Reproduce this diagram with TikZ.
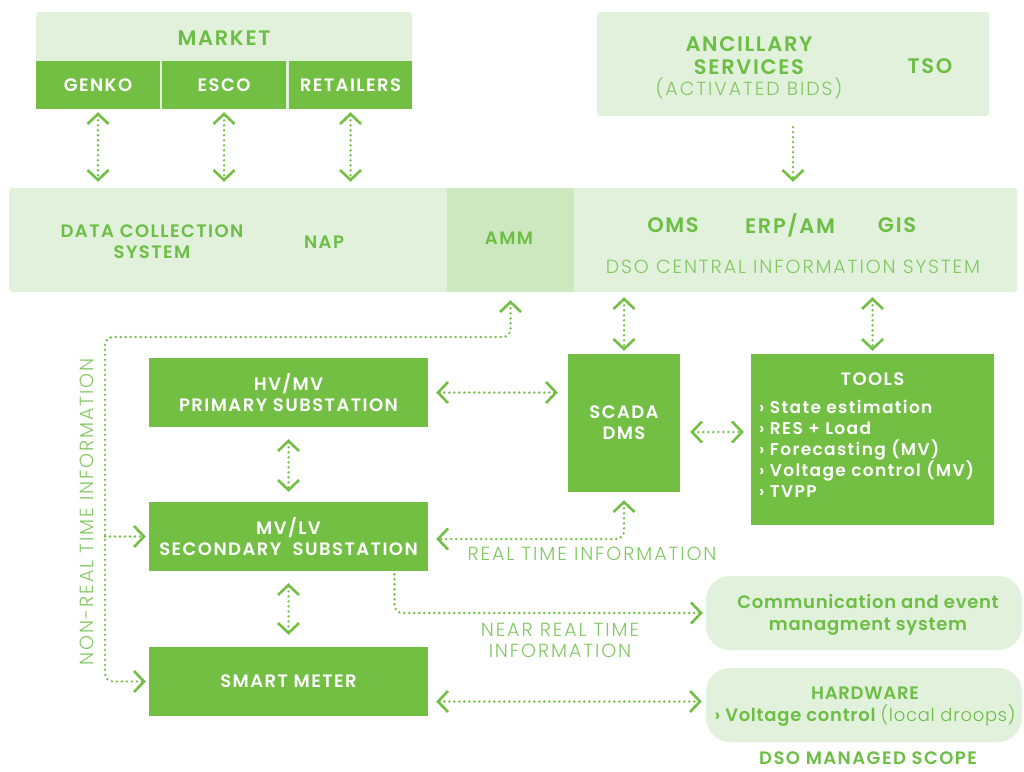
\documentclass[tikz,border=0pt]{standalone}
\usepackage{fontspec}
\setmainfont{Poppins}
\newfontfamily\labelfont{Poppins SemiBold}[LetterSpace=8]
\newfontfamily\thinfont{Poppins Light}[LetterSpace=10]
\usetikzlibrary{arrows.meta}
\definecolor{dsogreen}{RGB}{114,191,68}
\definecolor{dsolight}{RGB}{226,241,219}
\definecolor{dsoamm}{RGB}{205,232,191}
\definecolor{dsotext}{RGB}{108,190,69}
\definecolor{dsothin}{RGB}{130,200,98}

\begin{document}
\begin{tikzpicture}[x=1pt,y=-1pt,
	>={Straight Barb[length=10pt,width=21pt]},
	box/.style={fill=dsogreen, text=white, font=\labelfont\fontsize{18}{21}\selectfont, align=center, inner sep=0pt},
	panel/.style={fill=dsolight, rounded corners=3pt, inner sep=0pt},
	heading/.style={text=dsotext, font=\labelfont\fontsize{18}{21}\selectfont, align=center},
	bigheading/.style={heading, font=\labelfont\fontsize{21}{23}\selectfont},
	thin/.style={text=dsothin, font=\thinfont\fontsize{19}{21}\selectfont, align=center},
	link/.style={draw=dsogreen, line width=2.6pt, dash pattern=on 0pt off 5pt, line cap=round}]
			\useasboundingbox (0,0) rectangle (1024,771);
			% Define nodes
			\node[panel, minimum width=376pt, minimum height=97pt] (market) at (224,60.5) {}; % Market panel
			\node[bigheading] (marketlabel) at (224,38) {MARKET};
			\node[box, minimum width=124pt, minimum height=48pt] (genko) at (98,85) {GENKO};
			\node[box, minimum width=124pt, minimum height=48pt] (esco) at (224,85) {ESCO};
			\node[box, minimum width=123pt, minimum height=48pt] (retailers) at (350.5,85) {RETAILERS};
			\node[panel, minimum width=392pt, minimum height=104pt] (tso) at (793,64) {}; % TSO panel
			\node[bigheading] (ancillary) at (749,56) {ANCILLARY\\SERVICES};
			\node[thin] (bids) at (749,88) {(ACTIVATED BIDS)};
			\node[bigheading] (tsolabel) at (930,66) {TSO};
			
			\node[panel, minimum width=1008pt, minimum height=104pt] (band) at (513,240) {}; % Information band
			\node[fill=dsoamm, inner sep=0pt, minimum width=127pt, minimum height=104pt] (amm) at (510.5,240) {};
			\node[heading] (dcs) at (152,241.5) {DATA COLLECTION\\SYSTEM};
			\node[heading] (nap) at (324,242) {NAP};
			\node[heading] (ammlabel) at (509,238) {AMM};
			\node[bigheading] (oms) at (673,225) {OMS};
			\node[bigheading] (erp) at (790,225) {ERP/AM};
			\node[bigheading] (gis) at (897,225) {GIS};
			\node[thin] (central) at (793,267) {DSO CENTRAL INFORMATION SYSTEM};
			
			\node[box, minimum width=279pt, minimum height=69pt] (hvmv) at (288.5,392.5) {HV/MV\\PRIMARY SUBSTATION};
			\node[box, minimum width=279pt, minimum height=69pt] (mvlv) at (288.5,536.5) {MV/LV\\SECONDARY\ \ SUBSTATION};
			\node[box, minimum width=279pt, minimum height=69pt] (sm) at (288.5,681.5) {SMART METER};
			\node[box, minimum width=112pt, minimum height=138pt] (scada) at (624,423) {SCADA\\DMS};
			\node[box, minimum width=243pt, minimum height=171pt] (tools) at (872.5,439.5) {};
			\node[box] (toolstitle) at (872.5,379) {TOOLS};
			\node[box, anchor=west, align=left, font=\labelfont\fontsize{17}{21}\selectfont] (toolslist) at (759,449) {› State estimation\\› RES + Load\\› Forecasting (MV)\\› Voltage control (MV)\\› TVPP};
			
			\node[panel, rounded corners=24pt, minimum width=316pt, minimum height=74pt] (comm) at (864,613) {}; % Communication panel
			\node[heading, font=\labelfont\fontsize{18}{22}\selectfont\addfontfeatures{LetterSpace=4}] (commlabel) at (868,615) {Communication and event\\managment system};
			\node[panel, rounded corners=24pt, minimum width=316pt, minimum height=74pt] (hw) at (864,705) {}; % Hardware panel
			\node[heading, font=\labelfont\fontsize{18}{22}\selectfont\addfontfeatures{LetterSpace=4}] (hwlabel) at (865,707) {HARDWARE\\› Voltage control {\thinfont\addfontfeatures{LetterSpace=4}(local droops)}};
			
			\node[thin] (rtlabel) at (592,554) {REAL TIME INFORMATION};
			\node[thin] (nrtlabel) at (560,640) {NEAR REAL TIME\\INFORMATION};
			\node[thin, rotate=90] (nonrtlabel) at (87,512) {NON-REAL TIME INFORMATION};
			\node[heading] (scope) at (868,758) {DSO MANAGED SCOPE};
			\coordinate (nonrt) at (105,337);
			\coordinate (rt) at (624,539);
			
			% Connect nodes
			\draw[link, <->, shorten <=3pt, shorten >=6pt] (genko.south) -- (genko.south |- band.north);
			\draw[link, <->, shorten <=3pt, shorten >=6pt] (esco.south) -- (esco.south |- band.north);
			\draw[link, <->, shorten <=3pt, shorten >=6pt] (retailers.south) -- (retailers.south |- band.north);
			\draw[link, ->, shorten <=11pt, shorten >=6pt] (tso.south) -- (tso.south |- band.north);
			\draw[link, <->, shorten <=5pt, shorten >=3pt] (scada.north |- band.south) -- (scada.north);
			\draw[link, <->, shorten <=5pt, shorten >=3pt] (tools.north |- band.south) -- (tools.north);
			\draw[link, <->, shorten <=8pt, shorten >=10pt] (hvmv.east) -- (hvmv.east -| scada.west);
			\draw[link, <->, shorten <=10pt, shorten >=7pt] ([yshift=-9pt]scada.east) -- ([yshift=-9pt]scada.east -| tools.west);
			\draw[link, <->, shorten <=12pt, shorten >=10pt] (hvmv.south) -- (mvlv.north);
			\draw[link, <->, shorten <=12pt, shorten >=12pt] (mvlv.south) -- (sm.north);
			\draw[link, <->, shorten <=8pt, shorten >=3pt, rounded corners=8pt] (amm.south) -- (amm.south |- nonrt) -- (nonrt) -- (nonrt |- sm.west) -- (sm.west);
			\draw[link, ->, shorten >=3pt] (nonrt |- mvlv.west) -- (mvlv.west);
			\draw[link, <->, shorten <=8pt, shorten >=8pt, rounded corners=8pt] (scada.south) -- (rt) -- (rt -| mvlv.east);
			\draw[link, ->, shorten <=3pt, shorten >=3pt, rounded corners=8pt] ([xshift=106pt]mvlv.south) |- (comm.west);
			\draw[link, <->, shorten <=8pt, shorten >=4pt] ([yshift=-20pt]sm.east) -- ([yshift=-20pt]sm.east -| hw.west);
		\end{tikzpicture}
\end{document}
